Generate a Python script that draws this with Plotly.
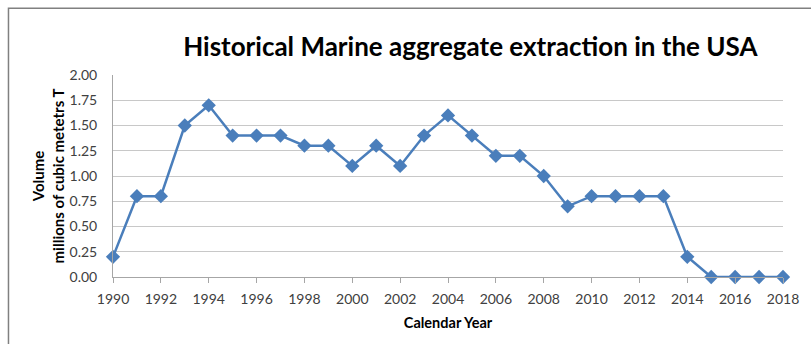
import plotly.graph_objects as go

years = list(range(1990, 2019))
volume = [0.2, 0.8, 0.8, 1.5, 1.7, 1.4, 1.4, 1.4, 1.3, 1.3,
          1.1, 1.3, 1.1, 1.4, 1.6, 1.4, 1.2, 1.2, 1.0, 0.7,
          0.8, 0.8, 0.8, 0.8, 0.2, 0.0, 0.0, 0.0, 0.0]
x_ticks = list(range(1990, 2019, 2))
y_ticks = [0, 0.25, 0.5, 0.75, 1.0, 1.25, 1.5, 1.75, 2.0]

blue = "#4a7ebb"
font = "Lato, 'Open Sans', sans-serif"

fig = go.Figure()
fig.add_trace(go.Scatter(
    x=years, y=volume, mode="lines+markers",
    line=dict(color=blue, width=2.5),
    marker=dict(symbol="diamond", size=11, color=blue),
    cliponaxis=False, showlegend=False,
))

fig.update_layout(
    width=811, height=344,
    margin=dict(l=113, r=21, t=75, b=67),
    paper_bgcolor="white", plot_bgcolor="white",
    font=dict(family=font, size=14, color="#404040"),
    title=dict(text="<b>Historical Marine aggregate extraction in the USA</b>",
               x=0.58, xanchor="center", y=0.863, yanchor="middle",
               font=dict(family=font, size=26, color="#000000")),
    xaxis=dict(range=[1990, 2018], tickvals=x_ticks, showgrid=False,
               zeroline=False, showline=True, linecolor="#a6a6a6", linewidth=1,
               ticks="outside", ticklen=5, tickcolor="#a6a6a6",
               ticklabelstandoff=4,
               tickfont=dict(size=14, color="#404040"),
               title=dict(text="<b>Calendar Year</b>", standoff=12,
                          font=dict(size=14.5, color="#000000"))),
    yaxis=dict(range=[0, 2.0], tickvals=y_ticks, tickformat=".2f",
               showgrid=True, gridcolor="#c8c8c8", gridwidth=1,
               zeroline=False, showline=True, linecolor="#a6a6a6", linewidth=1,
               ticklabelstandoff=12,
               tickfont=dict(size=14, color="#404040"),
               title=dict(text="<b>Volume<br>millions of cubic metetrs T</b>",
                          standoff=1, font=dict(size=15, color="#000000"))),
)

# chart area border (top and left edges visible)
fig.add_shape(type="rect", xref="paper", yref="paper",
              x0=-0.156, x1=1.2, y0=-0.5, y1=1.33,
              line=dict(color="#808080", width=1.5), layer="below")

fig.write_html("out.html")
